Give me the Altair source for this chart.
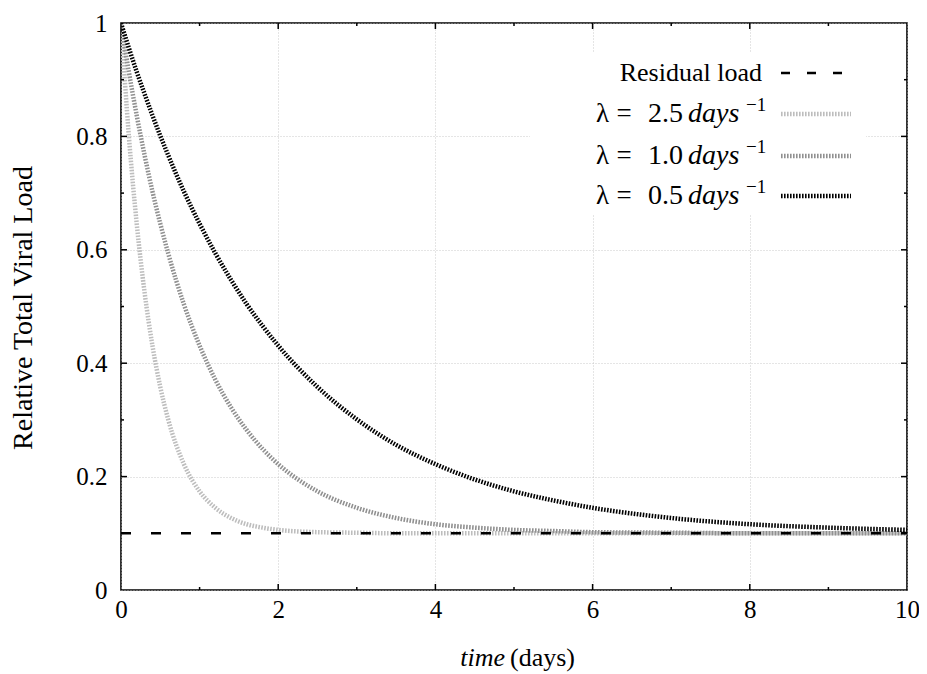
import altair as alt
import pandas as pd

# ---- data ----
time_days = [0, 0.1, 0.2, 0.3, 0.4, 0.5, 0.6, 0.8, 1.0, 1.2, 1.4, 1.6, 1.8, 2.0,
             2.5, 3, 3.5, 4, 4.5, 5, 5.5, 6, 7, 8, 9, 10]
load_lambda_25 = [1.0, 0.801, 0.646, 0.525, 0.431, 0.358, 0.301, 0.222, 0.174, 0.145,
                  0.127, 0.116, 0.110, 0.106, 0.102, 0.101, 0.100, 0.100, 0.100, 0.100,
                  0.100, 0.100, 0.100, 0.100, 0.100, 0.100]
load_lambda_10 = [1.0, 0.914, 0.837, 0.767, 0.703, 0.646, 0.594, 0.504, 0.431, 0.371,
                  0.322, 0.282, 0.249, 0.222, 0.174, 0.145, 0.127, 0.116, 0.110, 0.106,
                  0.104, 0.102, 0.101, 0.100, 0.100, 0.100]
load_lambda_05 = [1.0, 0.956, 0.914, 0.875, 0.837, 0.801, 0.767, 0.703, 0.646, 0.594,
                  0.547, 0.504, 0.466, 0.431, 0.358, 0.301, 0.256, 0.222, 0.195, 0.174,
                  0.158, 0.145, 0.127, 0.116, 0.110, 0.106]
residual_t = [0, 10]
residual_v = [0.1, 0.1]

x_ticks_labels = [0, 2, 4, 6, 8, 10]
y_ticks_labels = [0, 0.2, 0.4, 0.6, 0.8, 1.0]
x_major_ticks = [2, 4, 6, 8]
x_minor_ticks = [1, 3, 5, 7, 9]
y_major_ticks = [0.2, 0.4, 0.6, 0.8]
y_minor_ticks = [0.1, 0.3, 0.5, 0.7, 0.9]

series_lambda = ["2.5", "1.0", "0.5"]
series_values = [load_lambda_25, load_lambda_10, load_lambda_05]
series_colors = ["#bdbdbd", "#909090", "#000000"]

W, H = 786, 567
FONT = "Liberation Serif"

xscale = alt.Scale(domain=[0, 10], nice=False, zero=False)
yscale = alt.Scale(domain=[0, 1], nice=False, zero=False)

xaxis = alt.Axis(values=x_ticks_labels, format="d", grid=True, gridDash=[1, 2],
                 gridColor="#bdbdbd", gridWidth=0.8, ticks=False, domain=False,
                 labelFont=FONT, labelFontSize=25, labelColor="black",
                 labelPadding=7, labelFlush=False, labelOverlap=False, title=None)
yaxis = alt.Axis(values=y_ticks_labels, format="~g", grid=True, gridDash=[1, 2],
                 gridColor="#bdbdbd", gridWidth=0.8, ticks=False, domain=False,
                 labelFont=FONT, labelFontSize=25, labelColor="black",
                 labelPadding=14, labelFlush=False, labelOverlap=False, title=None)


def X(field):
    return alt.X(field, scale=xscale, axis=xaxis)


def Y(field):
    return alt.Y(field, scale=yscale, axis=yaxis)


one = pd.DataFrame({"a": [0]})


def label(text, x, y, size=26, align="left", italic=False, angle=None):
    kw = dict(font=FONT, fontSize=size, align=align, baseline="middle", color="black")
    if italic:
        kw["fontStyle"] = "italic"
    if angle is not None:
        kw["angle"] = angle
    return alt.Chart(one).mark_text(**kw).encode(
        x=alt.value(x), y=alt.value(y), text=alt.value(text))


layers = []

# white key box hiding grid lines
layers.append(alt.Chart(one).mark_rect(color="white").encode(
    x=alt.value(409), x2=alt.value(745), y=alt.value(30), y2=alt.value(192)))

# curves
for vals, col in zip(series_values, series_colors):
    df = pd.DataFrame({"t": time_days, "v": vals})
    layers.append(alt.Chart(df).mark_line(
        color=col, strokeWidth=4.5, strokeDash=[1.6, 1.4], interpolate="monotone",
        clip=True).encode(x=X("t:Q"), y=Y("v:Q")))

# residual load dashed line
res_df = pd.DataFrame({"t": residual_t, "v": residual_v})
layers.append(alt.Chart(res_df).mark_line(color="black", strokeWidth=2.4,
                                          strokeDash=[10, 20]).encode(
    x=X("t:Q"), y=Y("v:Q")))


# inward ticks on all four sides
def xticks(vals, length):
    df = pd.DataFrame({"t": vals})
    bottom = alt.Chart(df).mark_rule(color="black", strokeWidth=1.5).encode(
        x=X("t:Q"), y=alt.value(H), y2=alt.value(H - length))
    top = alt.Chart(df).mark_rule(color="black", strokeWidth=1.5).encode(
        x=X("t:Q"), y=alt.value(0), y2=alt.value(length))
    return [bottom, top]


def yticks(vals, length):
    df = pd.DataFrame({"v": vals})
    left = alt.Chart(df).mark_rule(color="black", strokeWidth=1.5).encode(
        y=Y("v:Q"), x=alt.value(0), x2=alt.value(length))
    right = alt.Chart(df).mark_rule(color="black", strokeWidth=1.5).encode(
        y=Y("v:Q"), x=alt.value(W), x2=alt.value(W - length))
    return [left, right]


layers += xticks(x_major_ticks, 6) + xticks(x_minor_ticks, 3)
layers += yticks(y_major_ticks, 6) + yticks(y_minor_ticks, 3)

# key (legend)
row_y = [50, 91, 133, 173]
layers.append(label("Residual load", 641, row_y[0], align="right"))
layers.append(alt.Chart(one).mark_rule(color="black", strokeWidth=2.4,
                                       strokeDash=[9, 17]).encode(
    x=alt.value(660), x2=alt.value(730), y=alt.value(row_y[0])))
for i, (lam, col) in enumerate(zip(series_lambda, series_colors)):
    ry = row_y[i + 1]
    layers.append(label("λ", 475, ry, size=27))
    layers.append(label("=", 503, ry, size=27, align="center"))
    layers.append(label(lam, 562, ry, size=28, align="right"))
    layers.append(label("days", 567, ry, size=28, italic=True))
    layers.append(label("−1", 625, ry - 9, size=19))
    layers.append(alt.Chart(one).mark_rule(color=col, strokeWidth=4.5,
                                           strokeDash=[1.6, 1.4]).encode(
        x=alt.value(660), x2=alt.value(730), y=alt.value(ry)))

# axis titles
layers.append(label("Relative Total Viral Load", -97, 285, size=28, align="center",
                    angle=270))
layers.append(label("time", 384, 635, size=26, align="right", italic=True))
layers.append(label("(days)", 389, 635, size=26))

chart = alt.layer(*layers).properties(
    width=W, height=H, background="white",
    padding={"left": 113, "top": 15, "right": 12, "bottom": 82},
    autosize=alt.AutoSizeParams(type="none"),
).configure_view(stroke="black", strokeWidth=1.6)

chart.save("out.html", embed_options={"renderer": "svg", "actions": False})
